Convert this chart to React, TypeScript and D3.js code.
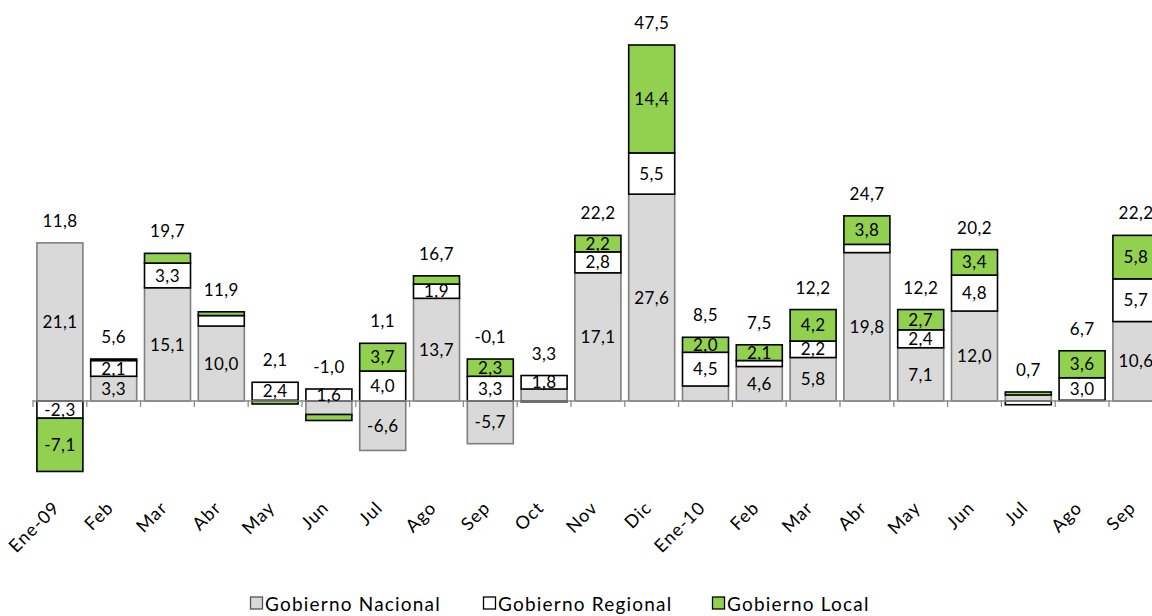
import { useMemo } from 'react'
import * as d3 from 'd3'

// --- DATA ---
const categories = [
  'Ene-09', 'Feb', 'Mar', 'Abr', 'May', 'Jun', 'Jul', 'Ago', 'Sep', 'Oct', 'Nov', 'Dic',
  'Ene-10', 'Feb', 'Mar', 'Abr', 'May', 'Jun', 'Jul', 'Ago', 'Sep',
]

const nacional = [21.1, 3.3, 15.1, 10.0, 0.1, -1.8, -6.6, 13.7, -5.7, 1.6, 17.1, 27.6, 2.0, 4.6, 5.8, 19.8, 7.1, 12.0, 0.8, 0.1, 10.6]
const regional = [-2.3, 2.1, 3.3, 1.4, 2.4, 1.6, 4.0, 1.9, 3.3, 1.8, 2.8, 5.5, 4.5, 0.8, 2.2, 1.1, 2.4, 4.8, -0.5, 3.0, 5.7]
const local = [-7.1, 0.2, 1.3, 0.5, -0.4, -0.8, 3.7, 1.1, 2.3, -0.1, 2.2, 14.4, 2.0, 2.1, 4.2, 3.8, 2.7, 3.4, 0.4, 3.6, 5.8]
const totals = [11.8, 5.6, 19.7, 11.9, 2.1, -1.0, 1.1, 16.7, -0.1, 3.3, 22.2, 47.5, 8.5, 7.5, 12.2, 24.7, 12.2, 20.2, 0.7, 6.7, 22.2]

// segment labels removed in the original (index of category, series key)
const hiddenLabels = ['5-nacional', '9-nacional', '12-nacional']

const seriesNames = ['Gobierno Nacional', 'Gobierno Regional', 'Gobierno Local']

type Seg = { key: string; i: number; v: number; y0: number; y1: number }

const FONT = 'Lato, "Open Sans", sans-serif'
const fmt = (v: number) => v.toFixed(1).replace('.', ',')

const styles: Record<string, { fill: string; stroke: string }> = {
  nacional: { fill: '#d9d9d9', stroke: '#7f7f7f' },
  regional: { fill: '#ffffff', stroke: '#000000' },
  local: { fill: '#92d050', stroke: '#000000' },
}

export default function App() {
  const width = 1152
  const height = 616

  const x = d3
    .scaleBand<number>()
    .domain(d3.range(categories.length))
    .range([33, 33 + 21 * 53.8])
    .paddingInner(0.145)
    .paddingOuter(0.0725)

  const y = d3.scaleLinear().domain([-10, 50]).range([401 + 10 * 7.495, 401 - 50 * 7.495])

  const segments = useMemo(() => {
    const out: Seg[] = []
    categories.forEach((_, i) => {
      let pos = 0
      let neg = 0
      const vals: [string, number][] = [
        ['nacional', nacional[i]],
        ['regional', regional[i]],
        ['local', local[i]],
      ]
      vals.forEach(([key, v]) => {
        if (v >= 0) {
          out.push({ key, i, v, y0: pos, y1: pos + v })
          pos += v
        } else {
          out.push({ key, i, v, y0: neg, y1: neg + v })
          neg += v
        }
      })
    })
    return out
  }, [])

  const posTop = categories.map((_, i) =>
    [nacional[i], regional[i], local[i]].filter((v) => v > 0).reduce((a, b) => a + b, 0)
  )

  const bw = x.bandwidth()
  const step = x.step()

  return (
    <svg
      width={width}
      height={height}
      style={{ display: 'block', position: 'absolute', left: 0, top: 0 }}
    >
      <rect width={width} height={height} fill="#fff" />

      {/* --- BARS --- */}
      {segments.map((s, k) => (
        <rect
          key={k}
          x={x(s.i)!}
          y={y(Math.max(s.y0, s.y1))}
          width={bw}
          height={Math.abs(y(s.y0) - y(s.y1))}
          fill={styles[s.key].fill}
          stroke={styles[s.key].stroke}
          strokeWidth={1.6}
        />
      ))}

      {/* --- AXIS --- */}
      <line x1={33} x2={width} y1={y(0)} y2={y(0)} stroke="#8c8c8c" strokeWidth={1.6} />
      {d3.range(categories.length + 1).map((i) => (
        <line
          key={i}
          x1={33 + i * step}
          x2={33 + i * step}
          y1={y(0) - 1}
          y2={y(0) + 6}
          stroke="#8c8c8c"
          strokeWidth={1.3}
        />
      ))}

      {/* --- SEGMENT LABELS --- */}
      {segments
        .filter((s) => Math.abs(s.v) >= 1.5 && !hiddenLabels.includes(`${s.i}-${s.key}`))
        .map((s, k) => (
          <text
            key={k}
            x={x(s.i)! + bw / 2}
            y={y((s.y0 + s.y1) / 2)}
            dy="0.36em"
            textAnchor="middle"
            fontFamily={FONT}
            fontSize={17}
            letterSpacing={0.4}
            fill="#000"
          >
            {fmt(s.v)}
          </text>
        ))}

      {/* --- TOTAL LABELS --- */}
      {totals.map((t, i) => (
        <text
          key={i}
          x={x(i)! + bw / 2}
          y={y(posTop[i]) - 22}
          dy="0.36em"
          textAnchor="middle"
          fontFamily={FONT}
          fontSize={17}
          letterSpacing={0.4}
          fill="#000"
        >
          {fmt(t)}
        </text>
      ))}

      {/* --- CATEGORY LABELS --- */}
      {categories.map((c, i) => (
        <text
          key={i}
          transform={`translate(${x(i)! + bw / 2 + 1}, 509) rotate(-45)`}
          textAnchor="end"
          fontFamily={FONT}
          fontSize={18}
          letterSpacing={1}
          fill="#000"
        >
          {c}
        </text>
      ))}

      {/* --- LEGEND --- */}
      {seriesNames.map((n, k) => {
        const key = ['nacional', 'regional', 'local'][k]
        const lx = [250, 483, 712][k]
        return (
          <g key={n} transform={`translate(${lx}, 0)`}>
            <rect
              x={0.5}
              y={597}
              width={12}
              height={12}
              fill={styles[key].fill}
              stroke={key === 'nacional' ? '#555' : '#000'}
              strokeWidth={1.3}
            />
            <text x={15} y={611} fontFamily={FONT} fontSize={19} letterSpacing={1.2} fill="#000">
              {n}
            </text>
          </g>
        )
      })}
    </svg>
  )
}
